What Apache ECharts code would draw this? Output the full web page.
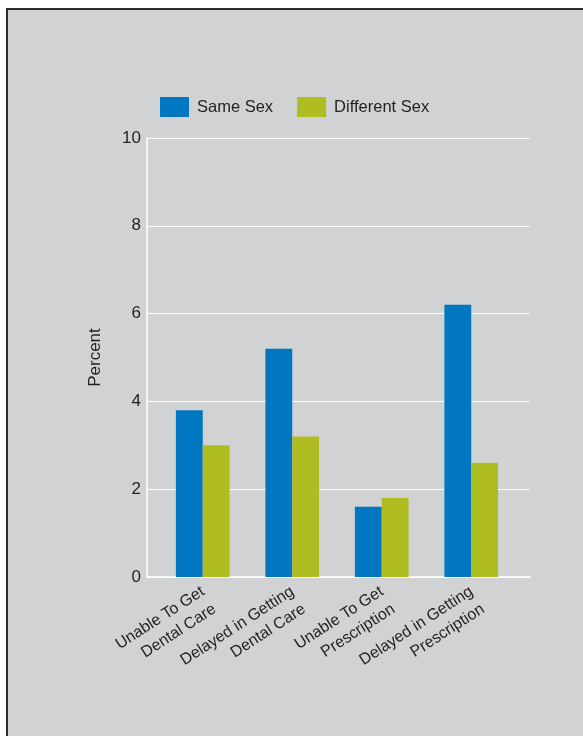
<!DOCTYPE html>
<html><head><meta charset="utf-8">
<script src="https://cdn.jsdelivr.net/npm/echarts@6/dist/echarts.min.js"></script>
<style>html,body{margin:0;padding:0;background:#fff;}#c{width:583px;height:736px;}</style>
</head><body><div id="c"></div>
<script>
const categories = ['Unable To Get\nDental Care','Delayed in Getting\nDental Care','Unable To Get\nPrescription','Delayed in Getting\nPrescription'];
const sameSex = [3.8, 5.2, 1.6, 6.2];
const differentSex = [3.0, 3.2, 1.8, 2.6];
const yTicks = [0, 2, 4, 6, 8, 10];

const font = 'Liberation Sans, Arial, Helvetica, sans-serif';
const textColor = '#231f20';
const chart = echarts.init(document.getElementById('c'), null, {renderer:'canvas'});
chart.setOption({
  backgroundColor: '#ffffff',
  animation: false,
  graphic: [{
    type: 'rect', z: -10, silent: true,
    shape: {x: 7, y: 9, width: 620, height: 780},
    style: {fill: '#d1d2d4', stroke: '#2b2b2b', lineWidth: 2}
  }],
  legend: {
    left: 155, top: 92, itemWidth: 29, itemHeight: 20, itemGap: 24,
    icon: 'rect',
    textStyle: {fontFamily: font, fontSize: 16.5, color: textColor, padding: [0,0,0,3]},
    data: ['Same Sex', 'Different Sex']
  },
  grid: [
    {left: 147, right: 53, top: 138, bottom: 159, containLabel: false},
    {left: 158, right: 67, top: 138, bottom: 159, containLabel: false},
    {left: 164, right: 61, top: 138, bottom: 159, containLabel: false}
  ],
  xAxis: [
    {gridIndex: 0, type: 'category', data: categories, show: true,
     axisLine: {show: true, lineStyle: {color: '#ffffff', width: 1.5}},
     axisTick: {show: false}, axisLabel: {show: false}, splitLine: {show: false}},
    {gridIndex: 1, type: 'category', data: categories,
     axisLine: {show: false}, axisTick: {show: false}, axisLabel: {show: false}},
    {gridIndex: 2, type: 'category', data: categories,
     axisLine: {show: false}, axisTick: {show: false},
     axisLabel: {rotate: 33, fontFamily: font, fontSize: 16, color: textColor, margin: 22, lineHeight: 21, interval: 0}}
  ],
  yAxis: [
    {gridIndex: 0, type: 'value', min: yTicks[0], max: yTicks[yTicks.length-1], interval: 2,
     name: 'Percent', nameLocation: 'middle', nameGap: 43, nameRotate: 90,
     nameTextStyle: {fontFamily: font, fontSize: 17, color: textColor},
     axisLine: {show: true, lineStyle: {color: '#ffffff', width: 1.5}},
     axisTick: {show: false},
     axisLabel: {fontFamily: font, fontSize: 17, color: textColor, margin: 6},
     splitLine: {show: true, lineStyle: {color: '#ffffff', width: 1.2}}},
    {gridIndex: 1, type: 'value', min: yTicks[0], max: yTicks[yTicks.length-1], interval: 2, show: false},
    {gridIndex: 2, type: 'value', min: yTicks[0], max: yTicks[yTicks.length-1], interval: 2, show: false}
  ],
  series: [
    {name: 'Same Sex', type: 'bar', xAxisIndex: 1, yAxisIndex: 1, data: sameSex,
     itemStyle: {color: '#0077c0'}, barGap: '0%', barCategoryGap: '40%'},
    {name: 'Different Sex', type: 'bar', xAxisIndex: 1, yAxisIndex: 1, data: differentSex,
     itemStyle: {color: '#afbc22'}, barGap: '0%', barCategoryGap: '40%'}
  ]
});
</script></body></html>
